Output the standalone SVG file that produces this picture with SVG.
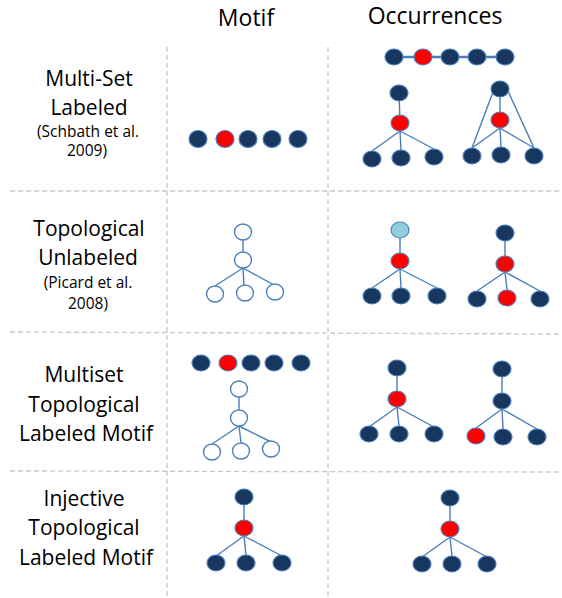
<svg xmlns="http://www.w3.org/2000/svg" width="562" height="598" viewBox="0 0 562 598">
  <style>
    .sep { stroke: #c9c9c9; stroke-width: 1.4; stroke-dasharray: 5 3; fill: none; }
    .e { stroke: #4a7ebb; stroke-width: 1.4; fill: none; }
    .chain { stroke: #4a7ebb; stroke-width: 2.6; fill: none; }
    .n { fill: #17375e; stroke: #4f81bd; stroke-width: 1.2; }
    .r { fill: #ff0000; stroke: #4f81bd; stroke-width: 1.2; }
    .lb { fill: #92cddc; stroke: #4f81bd; stroke-width: 1.2; }
    .h { fill: #ffffff; stroke: #4f81bd; stroke-width: 1.4; }
    text { font-family: "Open Sans", "Liberation Sans", sans-serif; fill: #000000; text-anchor: middle; }
    .hdr { font-size: 23px; }
    .lbl { font-size: 21px; }
    .ref { font-size: 15.5px; }
  </style>

  <rect width="562" height="598" fill="#ffffff"/>

  <!-- table grid -->
  <g id="grid">
    <line class="sep" x1="167" y1="47" x2="167" y2="598"/>
    <line class="sep" x1="328" y1="47" x2="328" y2="598"/>
    <line class="sep" x1="10" y1="191" x2="562" y2="191"/>
    <line class="sep" x1="10" y1="332" x2="562" y2="334"/>
    <line class="sep" x1="10" y1="471" x2="562" y2="472"/>
  </g>

  <!-- column headers -->
  <g id="headers">
    <text class="hdr" x="246" y="26">Motif</text>
    <text class="hdr" x="435" y="24">Occurrences</text>
  </g>

  <!-- row labels -->
  <g id="row-labels">
    <text class="lbl" x="89" y="86">Multi-Set</text>
    <text class="lbl" x="89" y="115">Labeled</text>
    <text class="ref" x="88" y="137">(Schbath et al.</text>
    <text class="ref" x="87" y="156">2009)</text>

    <text class="lbl" x="89" y="236">Topological</text>
    <text class="lbl" x="88" y="265">Unlabeled</text>
    <text class="ref" x="88" y="288">(Picard et al.</text>
    <text class="ref" x="88" y="309">2008)</text>

    <text class="lbl" x="84" y="382">Multiset</text>
    <text class="lbl" x="84" y="412">Topological</text>
    <text class="lbl" x="86" y="441">Labeled Motif</text>

    <text class="lbl" x="84" y="506">Injective</text>
    <text class="lbl" x="84" y="535">Topological</text>
    <text class="lbl" x="86" y="565">Labeled Motif</text>
  </g>

  <!-- connectors -->
  <g id="connectors">
    <!-- row 1: chain occurrence -->
    <line class="chain" x1="394" y1="57" x2="505" y2="57"/>
    <!-- row 1: star occurrence -->
    <line class="e" x1="399" y1="93" x2="400" y2="123"/>
    <line class="e" x1="400" y1="131" x2="372" y2="151"/>
    <line class="e" x1="400" y1="131" x2="401" y2="150"/>
    <line class="e" x1="400" y1="131" x2="434" y2="149"/>
    <!-- row 1: star with triangle edges -->
    <line class="e" x1="500" y1="89" x2="500" y2="120"/>
    <line class="e" x1="500" y1="128" x2="472" y2="148"/>
    <line class="e" x1="500" y1="128" x2="501" y2="147"/>
    <line class="e" x1="500" y1="128" x2="534" y2="148"/>
    <line class="e" x1="493" y1="92" x2="472" y2="148"/>
    <line class="e" x1="508" y1="91" x2="534" y2="148"/>

    <!-- row 2: motif -->
    <line class="e" x1="243" y1="232" x2="243" y2="260"/>
    <line class="e" x1="243" y1="268" x2="215" y2="286"/>
    <line class="e" x1="243" y1="268" x2="244" y2="285"/>
    <line class="e" x1="243" y1="268" x2="274" y2="285"/>
    <!-- row 2: occurrences -->
    <line class="e" x1="400" y1="230" x2="400" y2="261"/>
    <line class="e" x1="400" y1="269" x2="372" y2="288"/>
    <line class="e" x1="400" y1="269" x2="401" y2="288"/>
    <line class="e" x1="400" y1="269" x2="437" y2="288"/>
    <line class="e" x1="505" y1="233" x2="505" y2="264"/>
    <line class="e" x1="505" y1="272" x2="477" y2="291"/>
    <line class="e" x1="505" y1="272" x2="507" y2="290"/>
    <line class="e" x1="505" y1="272" x2="540" y2="291"/>

    <!-- row 3: motif tree -->
    <line class="e" x1="239" y1="389" x2="239" y2="418"/>
    <line class="e" x1="239" y1="426" x2="212" y2="444"/>
    <line class="e" x1="239" y1="426" x2="241" y2="443"/>
    <line class="e" x1="239" y1="426" x2="271" y2="442"/>
    <!-- row 3: occurrences -->
    <line class="e" x1="397" y1="368" x2="397" y2="399"/>
    <line class="e" x1="397" y1="407" x2="369" y2="427"/>
    <line class="e" x1="397" y1="407" x2="399" y2="426"/>
    <line class="e" x1="397" y1="407" x2="434" y2="427"/>
    <line class="e" x1="502" y1="369" x2="502" y2="401"/>
    <line class="e" x1="502" y1="409" x2="476" y2="428"/>
    <line class="e" x1="502" y1="409" x2="503" y2="429"/>
    <line class="e" x1="502" y1="409" x2="537" y2="429"/>

    <!-- row 4: motif -->
    <line class="e" x1="244" y1="497" x2="244" y2="528"/>
    <line class="e" x1="244" y1="536" x2="216" y2="556"/>
    <line class="e" x1="244" y1="536" x2="246" y2="555"/>
    <line class="e" x1="244" y1="536" x2="282" y2="556"/>
    <!-- row 4: occurrence -->
    <line class="e" x1="450" y1="498" x2="450" y2="529"/>
    <line class="e" x1="450" y1="537" x2="422" y2="557"/>
    <line class="e" x1="450" y1="537" x2="452" y2="556"/>
    <line class="e" x1="450" y1="537" x2="487" y2="557"/>
  </g>

  <!-- row 1: multi-set labeled -->
  <g id="r1-motif">
    <ellipse class="n" cx="198" cy="139" rx="9" ry="8.5"/>
    <ellipse class="r" cx="225" cy="139" rx="9" ry="8.5"/>
    <ellipse class="n" cx="248" cy="139" rx="9" ry="8.5"/>
    <ellipse class="n" cx="272" cy="139" rx="9" ry="8.5"/>
    <ellipse class="n" cx="298" cy="139" rx="9" ry="8.5"/>
  </g>
  <g id="r1-occ-chain">
    <ellipse class="n" cx="394" cy="57" rx="9" ry="8"/>
    <ellipse class="r" cx="423" cy="57" rx="9" ry="8"/>
    <ellipse class="n" cx="450" cy="57" rx="9" ry="8"/>
    <ellipse class="n" cx="477" cy="57" rx="9" ry="8"/>
    <ellipse class="n" cx="505" cy="57" rx="9" ry="8"/>
  </g>
  <g id="r1-occ-star">
    <ellipse class="n" cx="399" cy="93" rx="9" ry="8"/>
    <ellipse class="r" cx="400" cy="123" rx="9" ry="8"/>
    <ellipse class="n" cx="372" cy="159" rx="9" ry="8"/>
    <ellipse class="n" cx="401" cy="158" rx="9" ry="8"/>
    <ellipse class="n" cx="434" cy="157" rx="9" ry="8"/>
  </g>
  <g id="r1-occ-triangle">
    <ellipse class="n" cx="500" cy="89" rx="9" ry="8"/>
    <ellipse class="r" cx="500" cy="120" rx="9" ry="8"/>
    <ellipse class="n" cx="472" cy="156" rx="9" ry="8"/>
    <ellipse class="n" cx="501" cy="155" rx="9" ry="8"/>
    <ellipse class="n" cx="534" cy="156" rx="9" ry="8"/>
  </g>

  <!-- row 2: topological unlabeled -->
  <g id="r2-motif">
    <ellipse class="h" cx="243" cy="232" rx="8.5" ry="8"/>
    <ellipse class="h" cx="243" cy="260" rx="8.5" ry="8"/>
    <ellipse class="h" cx="215" cy="294" rx="8.5" ry="8"/>
    <ellipse class="h" cx="245" cy="293" rx="8.5" ry="8"/>
    <ellipse class="h" cx="275" cy="292" rx="8.5" ry="8"/>
  </g>
  <g id="r2-occ-a">
    <ellipse class="lb" cx="400" cy="230" rx="9" ry="8"/>
    <ellipse class="r" cx="400" cy="261" rx="9" ry="8"/>
    <ellipse class="n" cx="372" cy="296" rx="9" ry="8"/>
    <ellipse class="n" cx="401" cy="296" rx="9" ry="8"/>
    <ellipse class="n" cx="437" cy="296" rx="9" ry="8"/>
  </g>
  <g id="r2-occ-b">
    <ellipse class="n" cx="505" cy="233" rx="9" ry="8"/>
    <ellipse class="r" cx="505" cy="264" rx="9" ry="8"/>
    <ellipse class="n" cx="477" cy="299" rx="9" ry="8"/>
    <ellipse class="r" cx="507" cy="298" rx="9" ry="8"/>
    <ellipse class="n" cx="540" cy="299" rx="9" ry="8"/>
  </g>

  <!-- row 3: multiset topological labeled -->
  <g id="r3-motif-set">
    <ellipse class="n" cx="201" cy="363" rx="9" ry="8"/>
    <ellipse class="r" cx="228" cy="363" rx="9" ry="8"/>
    <ellipse class="n" cx="251" cy="363" rx="9" ry="8"/>
    <ellipse class="n" cx="274" cy="363" rx="9" ry="8"/>
    <ellipse class="n" cx="301" cy="363" rx="9" ry="8"/>
  </g>
  <g id="r3-motif-tree">
    <ellipse class="h" cx="239" cy="389" rx="8.5" ry="8"/>
    <ellipse class="h" cx="239" cy="418" rx="8.5" ry="8"/>
    <ellipse class="h" cx="212" cy="452" rx="8.5" ry="8"/>
    <ellipse class="h" cx="241" cy="451" rx="8.5" ry="8"/>
    <ellipse class="h" cx="271" cy="449" rx="8.5" ry="8"/>
  </g>
  <g id="r3-occ-a">
    <ellipse class="n" cx="397" cy="368" rx="9" ry="8"/>
    <ellipse class="r" cx="397" cy="399" rx="9" ry="8"/>
    <ellipse class="n" cx="369" cy="434" rx="9" ry="8"/>
    <ellipse class="n" cx="399" cy="434" rx="9" ry="8"/>
    <ellipse class="n" cx="434" cy="434" rx="9" ry="8"/>
  </g>
  <g id="r3-occ-b">
    <ellipse class="n" cx="502" cy="369" rx="9" ry="8"/>
    <ellipse class="n" cx="502" cy="401" rx="9" ry="8"/>
    <ellipse class="r" cx="476" cy="436" rx="9" ry="8"/>
    <ellipse class="n" cx="503" cy="437" rx="9" ry="8"/>
    <ellipse class="n" cx="537" cy="437" rx="9" ry="8"/>
  </g>

  <!-- row 4: injective topological labeled -->
  <g id="r4-motif">
    <ellipse class="n" cx="244" cy="497" rx="9" ry="8"/>
    <ellipse class="r" cx="244" cy="528" rx="9" ry="8"/>
    <ellipse class="n" cx="216" cy="563" rx="9" ry="8"/>
    <ellipse class="n" cx="246" cy="563" rx="9" ry="8"/>
    <ellipse class="n" cx="282" cy="563" rx="9" ry="8"/>
  </g>
  <g id="r4-occ">
    <ellipse class="n" cx="450" cy="498" rx="9" ry="8"/>
    <ellipse class="r" cx="450" cy="529" rx="9" ry="8"/>
    <ellipse class="n" cx="422" cy="564" rx="9" ry="8"/>
    <ellipse class="n" cx="452" cy="564" rx="9" ry="8"/>
    <ellipse class="n" cx="487" cy="564" rx="9" ry="8"/>
  </g>
</svg>
